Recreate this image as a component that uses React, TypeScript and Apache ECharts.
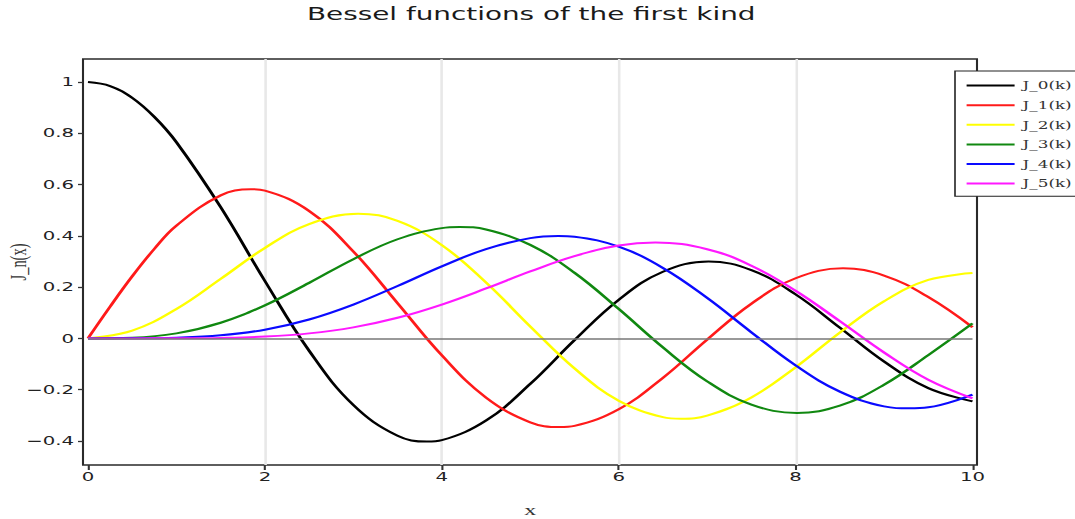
import React, { useEffect, useRef } from "react";
import * as echarts from "echarts";

// Bessel functions of the first kind J_n(x), tabulated on [0, 10] (step 0.5 plus local extrema)
const J0: [number, number][] = [
  [0, 1.0], [0.25, 0.98444], [0.5, 0.93847], [0.75, 0.86424], [1.0, 0.7652], [1.5, 0.51183],
  [2.0, 0.22389], [2.5, -0.04838], [3.0, -0.26005], [3.5, -0.38013], [3.8317, -0.40276],
  [4.0, -0.39715], [4.5, -0.32054], [5.0, -0.1776], [5.5, -0.00684], [6.0, 0.15065],
  [6.5, 0.26009], [7.0156, 0.30012], [7.5, 0.26634], [8.0, 0.17165], [8.5, 0.04188],
  [9.0, -0.09033], [9.5, -0.19393], [10.0, -0.24594],
];
const J1: [number, number][] = [
  [0, 0], [0.25, 0.12403], [0.5, 0.24227], [0.75, 0.34924], [1.0, 0.44005], [1.5, 0.55794],
  [1.8412, 0.58187], [2.0, 0.57672], [2.5, 0.49709], [3.0, 0.33906], [3.5, 0.13738],
  [4.0, -0.06604], [4.5, -0.23106], [5.0, -0.32758], [5.3314, -0.34613], [5.5, -0.34144],
  [6.0, -0.27668], [6.5, -0.15384], [7.0, -0.00468], [7.5, 0.13525], [8.0, 0.23464],
  [8.5363, 0.27339], [9.0, 0.24531], [9.5, 0.16126], [10.0, 0.04347],
];
const J2: [number, number][] = [
  [0, 0], [0.5, 0.0306], [1.0, 0.1149], [1.5, 0.23209], [2.0, 0.35283], [2.5, 0.44606],
  [3.0542, 0.4865], [3.5, 0.45863], [4.0, 0.36413], [4.5, 0.21785], [5.0, 0.04657],
  [5.5, -0.11731], [6.0, -0.24287], [6.5, -0.30743], [6.7061, -0.31353], [7.0, -0.30142],
  [7.5, -0.23027], [8.0, -0.11299], [8.5, 0.02238], [9.0, 0.14485], [9.5, 0.22788],
  [10.0, 0.25463],
];
const J3: [number, number][] = [
  [0, 0], [0.5, 0.00256], [1.0, 0.01956], [1.5, 0.06096], [2.0, 0.12894], [2.5, 0.2166],
  [3.0, 0.30906], [3.5, 0.38677], [4.0, 0.43017], [4.2012, 0.43439], [4.5, 0.4247],
  [5.0, 0.36483], [5.5, 0.25611], [6.0, 0.11477], [6.5, -0.03535], [7.0, -0.16756],
  [7.5, -0.25806], [8.0152, -0.29116], [8.5, -0.26262], [9.0, -0.18093], [9.5, -0.06522],
  [10.0, 0.05838],
];
const J4: [number, number][] = [
  [0, 0], [0.5, 0.00016], [1.0, 0.00248], [1.5, 0.01179], [2.0, 0.034], [2.5, 0.07378],
  [3.0, 0.13203], [3.5, 0.20439], [4.0, 0.28113], [4.5, 0.34842], [5.0, 0.39123],
  [5.3176, 0.39965], [5.5, 0.39668], [6.0, 0.35764], [6.5, 0.2748], [7.0, 0.1578],
  [7.5, 0.02382], [8.0, -0.10536], [8.5, -0.20773], [9.0, -0.26547], [9.2824, -0.27305],
  [9.5, -0.26907], [10.0, -0.2196],
];
const J5: [number, number][] = [
  [0, 0], [0.5, 0.00001], [1.0, 0.00025], [1.5, 0.0018], [2.0, 0.00704], [2.5, 0.0195],
  [3.0, 0.04303], [3.5, 0.08043], [4.0, 0.13209], [4.5, 0.19471], [5.0, 0.26114],
  [5.5, 0.32091], [6.0, 0.36209], [6.4156, 0.37409], [7.0, 0.3479], [7.5, 0.28347],
  [8.0, 0.18577], [8.5, 0.06711], [9.0, -0.05504], [9.5, -0.16137], [10.0, -0.23406],
];

const seriesNames = ["J_0(k)", "J_1(k)", "J_2(k)", "J_3(k)", "J_4(k)", "J_5(k)"];
const seriesData = [J0, J1, J2, J3, J4, J5];
const seriesColors = ["#000000", "#ff1a1a", "#ffff00", "#108810", "#0a0aff", "#ff19ff"];

const xTicks = [0, 2, 4, 6, 8, 10];
const yTicks = [-0.4, -0.2, 0, 0.2, 0.4, 0.6, 0.8, 1];

const SANS = "DejaVu Sans";
const SERIF = "Liberation Serif";

// The figure is laid out on a narrower canvas and stretched horizontally.
const STRETCH = 1.6;
const W = 1075 / STRETCH;
const H = 519;
const px = (v: number) => v / STRETCH;

export default function App() {
  const ref = useRef<HTMLDivElement>(null);

  useEffect(() => {
    document.body.style.margin = "0";
    const chart = echarts.init(ref.current!, undefined, { renderer: "svg" });

    const fmt = (v: number) => {
      const s = String(Math.abs(Number(v.toFixed(2))));
      return v < 0 ? "\u2212" + s : s;
    };

    const option: any = {
      animation: false,
      backgroundColor: "#ffffff",
      title: {
        text: "Bessel functions of the first kind",
        left: px(307),
        top: 5,
        padding: 0,
        textStyle: { fontFamily: SANS, fontSize: 17.4, fontWeight: "normal", color: "#1a1a1a" },
      },
      legend: {
        orient: "vertical",
        left: px(955),
        top: 71,
        padding: [9, px(16), 7, px(10)],
        itemWidth: px(48),
        itemHeight: 14,
        itemGap: 8.4,
        backgroundColor: "#ffffff",
        borderColor: "#222",
        borderWidth: 1,
        borderRadius: 0,
        itemStyle: { opacity: 0 },
        lineStyle: { width: 2 },
        data: seriesNames,
        textStyle: { fontFamily: "DejaVu Serif", fontSize: 10.5, color: "#333" },
      },
      grid: [
        // outer frame
        {
          left: px(83), top: 59, width: px(977 - 83), height: 406,
          show: true, borderColor: "#2a2a2a", borderWidth: 1.3, backgroundColor: "transparent",
          outerBoundsMode: "none", containLabel: false,
        },
        // data area
        {
          left: px(88), top: 59, width: px(972.5 - 88), height: 406,
          outerBoundsMode: "none", containLabel: false,
        },
      ],
      xAxis: [
        { gridIndex: 0, type: "value", show: false, min: 0, max: 1 },
        {
          gridIndex: 1,
          type: "value",
          min: 0,
          max: 10,
          interval: 2,
          name: "x",
          nameLocation: "middle",
          nameGap: 37,
          nameMoveOverlap: false,
          nameTextStyle: { fontFamily: SERIF, fontSize: 15, color: "#333" },
          axisLine: { show: false, onZero: false },
          axisTick: { show: true, length: 5, lineStyle: { color: "#333", width: 1.3 }, customValues: xTicks },
          axisLabel: { fontFamily: SANS, fontSize: 12.3, color: "#222", margin: 6, customValues: xTicks },
          splitLine: { show: true, showMinLine: false, showMaxLine: false, lineStyle: { color: "#e8e8e8", width: 1.6 } },
        },
      ],
      yAxis: [
        { gridIndex: 0, type: "value", show: false, min: 0, max: 1 },
        {
          gridIndex: 1,
          type: "value",
          min: -0.494,
          max: 1.09,
          offset: px(5),
          name: "J_n(x)",
          nameLocation: "middle",
          nameGap: 33,
          nameMoveOverlap: false,
          nameTextStyle: { fontFamily: SERIF, fontSize: 14.5, color: "#333" },
          axisLine: { show: false, onZero: false },
          axisTick: { show: true, length: px(5), lineStyle: { color: "#333", width: 1.3 }, customValues: yTicks },
          axisLabel: { fontFamily: SANS, fontSize: 12.3, color: "#222", margin: px(9), customValues: yTicks, formatter: fmt },
          splitLine: { show: false },
        },
      ],
      series: [
        {
          name: "zero",
          type: "line",
          xAxisIndex: 1,
          yAxisIndex: 1,
          data: [],
          silent: true,
          markLine: {
            silent: true,
            symbol: "none",
            label: { show: false },
            lineStyle: { color: "#777", width: 1.5, type: "solid" },
            data: [{ yAxis: 0 }],
          },
        },
        ...seriesNames.map((name, i) => ({
          name,
          type: "line",
          xAxisIndex: 1,
          yAxisIndex: 1,
          data: seriesData[i],
          showSymbol: false,
          symbol: "none",
          smooth: 0.4,
          color: seriesColors[i],
          lineStyle: { color: seriesColors[i], width: 2 },
        })),
      ],
    };

    chart.setOption(option);
    return () => chart.dispose();
  }, []);

  return (
    <div style={{ width: 1075, height: H, overflow: "hidden" }}>
      <div
        ref={ref}
        style={{ width: W, height: H, transform: `scaleX(${STRETCH})`, transformOrigin: "0 0" }}
      />
    </div>
  );
}
